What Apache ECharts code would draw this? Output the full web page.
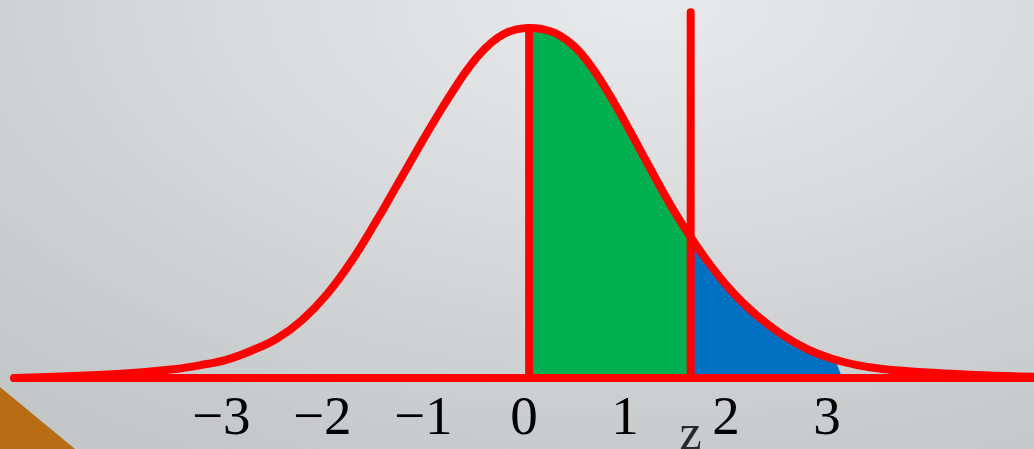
<!DOCTYPE html>
<html>
<head>
<meta charset="utf-8">
<script src="https://cdn.jsdelivr.net/npm/echarts@6/dist/echarts.min.js"></script>
<style>
  html, body { margin: 0; padding: 0; }
  body {
    width: 1034px; height: 449px; overflow: hidden;
    background: radial-gradient(ellipse 90% 115% at 62% 0%, #e8e9ea 0%, #d8dadb 45%, #c3c7c8 100%);
  }
  #chart { width: 1034px; height: 449px; }
</style>
</head>
<body>
<div id="chart"></div>
<script>
// bell curve (x in axis units, height relative to the peak)
const curveX = [-5.1, -4.5, -4, -3.5, -3.25, -3, -2.75, -2.5, -2.25, -2, -1.75, -1.5, -1.375, -1.25, -1.125, -1,
  -0.875, -0.75, -0.625, -0.5, -0.375, -0.25, -0.125, 0, 0.125, 0.25, 0.375, 0.5, 0.625, 0.75, 0.875,
  1, 1.125, 1.25, 1.375, 1.5, 1.75, 2, 2.25, 2.5, 2.75, 3, 3.25, 3.5, 4, 4.5, 5.1]
const curveY = [0, 0.006, 0.013, 0.026, 0.037, 0.052, 0.078, 0.112, 0.165, 0.24, 0.338, 0.455, 0.517, 0.58, 0.643, 0.705,
  0.765, 0.822, 0.876, 0.922, 0.958, 0.983, 0.996, 1.0, 0.997, 0.987, 0.965, 0.932, 0.886, 0.831, 0.77,
  0.705, 0.638, 0.572, 0.507, 0.447, 0.34, 0.25, 0.18, 0.125, 0.083, 0.055, 0.037, 0.026, 0.015, 0.008, 0.003]

// tick labels under the axis
const tickValues = [-3, -2, -1, 0, 1, 2, 3]
const tickLabels = ['−3', '−2', '−1', '0', '1', '2', '3']

// the z cut and the shaded parts
const zValue = 1.6
const zHeight = 0.41
const zLineTop = 1.045
const meanLineTop = 1.01
const blueLast = 3.0   // last curve point the blue follows
const blueTip = 3.1    // blue runs out to the axis here
const baseline = [[-5.1, 0], [5.1, 0]]

const curveData = curveX.map((x, i) => [x, curveY[i]])
// green: from 0 to z
const greenData = curveData.filter(p => p[0] >= 0 && p[0] < zValue).concat([[zValue, zHeight]])
// blue: from z out to the tail
const blueData = [[zValue, zHeight]]
  .concat(curveData.filter(p => p[0] > zValue && p[0] <= blueLast))
  .concat([[blueTip, 0]])

const chart = echarts.init(document.getElementById('chart'))

chart.setOption({
  backgroundColor: 'transparent',
  animation: false,
  grid: { left: 0, right: 0, top: 0, bottom: 71 },
  xAxis: {
    type: 'value',
    min: -5.24,
    max: 5.0,
    axisLine: { show: false },
    axisTick: { show: false },
    splitLine: { show: false },
    axisLabel: {
      customValues: tickValues,
      formatter: v => tickLabels[tickValues.indexOf(v)],
      color: '#000',
      fontFamily: 'Liberation Serif',
      fontSize: 55,
      margin: 14,
      padding: [0, 10, 0, 0]
    }
  },
  yAxis: { type: 'value', min: 0, max: 1.08, show: false },
  // orange corner
  graphic: [{
    type: 'polygon',
    shape: { points: [[0, 387], [75, 449], [0, 449]] },
    style: { fill: '#b86d14' },
    silent: true
  }],
  series: [
    {
      name: 'green',
      type: 'line',
      data: greenData,
      smooth: 0.4,
      symbol: 'none',
      lineStyle: { width: 0 },
      areaStyle: { color: '#00b050', opacity: 1 }
    },
    {
      name: 'blue',
      type: 'line',
      data: blueData,
      smooth: 0.4,
      smoothMonotone: 'x',
      symbol: 'none',
      lineStyle: { width: 0 },
      areaStyle: { color: '#0070c0', opacity: 1 }
    },
    {
      name: 'axis',
      type: 'line',
      data: baseline,
      symbol: 'none',
      lineStyle: { color: '#ff0000', width: 8, cap: 'round' }
    },
    {
      name: 'curve',
      type: 'line',
      data: curveData,
      smooth: 0.4,
      symbol: 'none',
      lineStyle: { color: '#ff0000', width: 8, cap: 'round', join: 'round' }
    },
    {
      name: 'mean',
      type: 'line',
      data: [[0, 0], [0, meanLineTop]],
      symbol: 'none',
      lineStyle: { color: '#ff0000', width: 8 }
    },
    {
      name: 'zline',
      type: 'line',
      data: [[zValue, 0], [zValue, zLineTop]],
      symbol: 'none',
      lineStyle: { color: '#ff0000', width: 8, cap: 'round' }
    },
    {
      // the z label under the axis
      name: 'zlabel',
      type: 'scatter',
      data: [[zValue, 0]],
      symbolSize: 0,
      label: {
        show: true,
        formatter: 'z',
        position: 'bottom',
        distance: 33,
        color: '#000',
        fontFamily: 'Liberation Serif',
        fontSize: 50
      }
    }
  ]
})
</script>
</body>
</html>
